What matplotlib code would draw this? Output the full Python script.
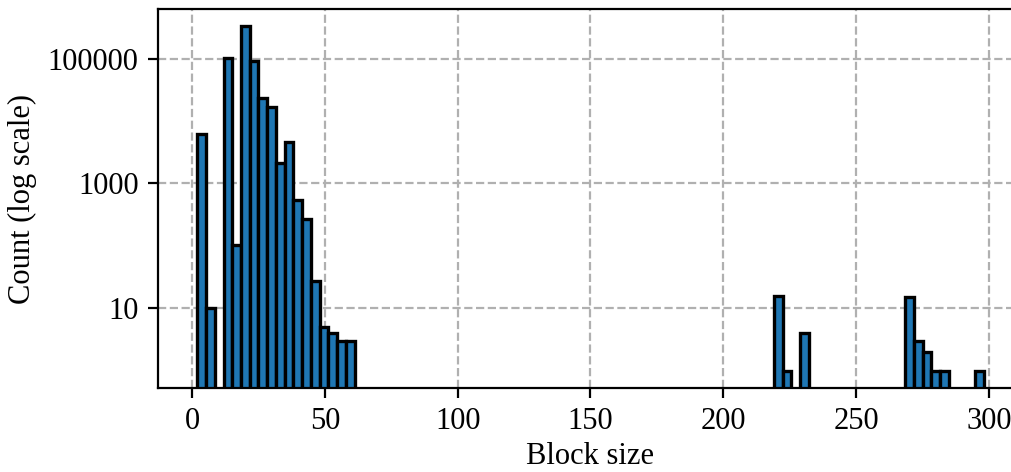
import numpy as np
import matplotlib
matplotlib.use('Agg')
import matplotlib.pyplot as plt
from matplotlib.ticker import FixedLocator, FixedFormatter, NullLocator

# histogram setup (90 bins between smallest and largest block size)
size_min = 2
size_max = 298
num_bins = 90

# non-empty bins: bin index -> count
bin_index = [0, 1, 3, 4, 5, 6, 7, 8, 9, 10, 11, 12, 13, 14, 15, 16, 17,
             66, 67, 69, 81, 82, 83, 84, 85, 89]
bin_count = [6200, 10, 102000, 102, 330000, 90000, 23000, 17000, 2140, 4600,
             540, 265, 27, 5, 4, 3, 3,
             16, 1, 4, 15, 3, 2, 1, 1, 1]

y_ticks = [10, 1000, 100000]
y_tick_labels = ['10', '1000', '100000']
x_ticks = [0, 50, 100, 150, 200, 250, 300]

plt.rcParams['font.family'] = ['Liberation Serif', 'DejaVu Serif']
plt.rcParams['font.size'] = 11

edges = np.linspace(size_min, size_max, num_bins + 1)
counts = np.zeros(num_bins)
counts[bin_index] = bin_count
centers = 0.5 * (edges[:-1] + edges[1:])

fig = plt.figure(figsize=(5.06, 2.36), dpi=200)
ax = fig.add_axes([158/1012., 1 - 388/472., (1023 - 158)/1012., (388 - 9)/472.])
ax.hist(centers, bins=edges, weights=counts, log=True,
        color='#1f77b4', edgecolor='black', linewidth=1.2)

ax.yaxis.set_major_locator(FixedLocator(y_ticks))
ax.yaxis.set_major_formatter(FixedFormatter(y_tick_labels))
ax.yaxis.set_minor_locator(NullLocator())
ax.set_xticks(x_ticks)

ax.grid(True, linestyle='--', color='#b0b0b0', linewidth=0.8)
ax.set_axisbelow(True)
ax.set_xlabel('Block size', labelpad=2)
ax.set_ylabel('Count (log scale)')

fig.savefig('out.png', dpi=200)
